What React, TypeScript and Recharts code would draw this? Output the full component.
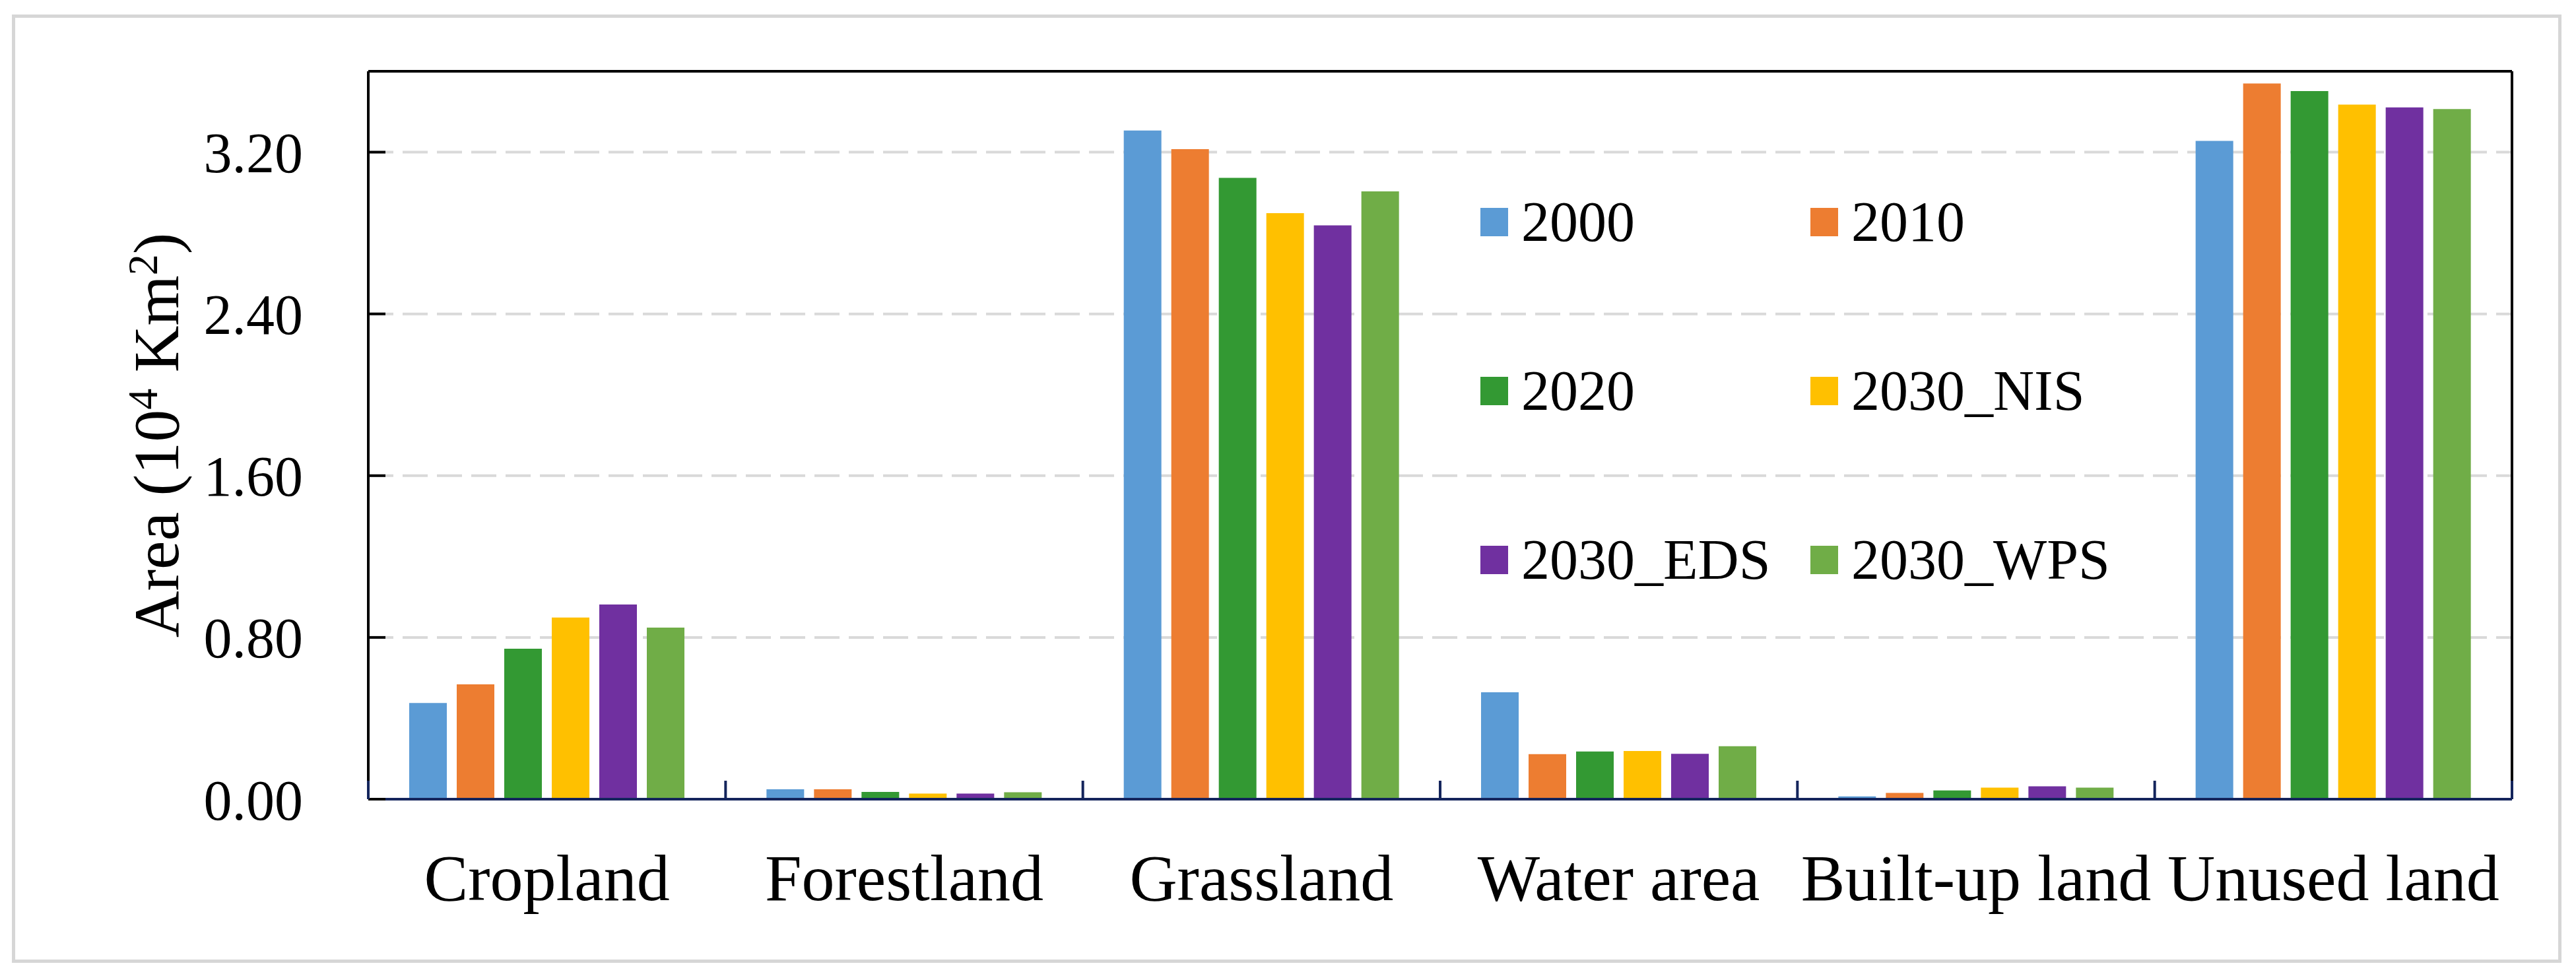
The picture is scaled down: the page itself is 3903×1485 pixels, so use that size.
import { BarChart, Bar, XAxis, YAxis, CartesianGrid, Legend } from "recharts";

const categories = ["Cropland", "Forestland", "Grassland", "Water area", "Built-up land", "Unused land"];
const seriesNames = ["2000", "2010", "2020", "2030_NIS", "2030_EDS", "2030_WPS"];
const seriesColors = ["#5b9bd5", "#ed7d31", "#339933", "#ffc000", "#7030a0", "#70ad47"];

// Area in 10^4 km2, one value per category
const area2000 = [0.476, 0.049, 3.307, 0.529, 0.014, 3.256];
const area2010 = [0.568, 0.049, 3.215, 0.223, 0.031, 3.54];
const area2020 = [0.744, 0.036, 3.073, 0.236, 0.043, 3.502];
const area2030NIS = [0.898, 0.028, 2.898, 0.238, 0.057, 3.435];
const area2030EDS = [0.963, 0.028, 2.838, 0.224, 0.064, 3.421];
const area2030WPS = [0.849, 0.034, 3.006, 0.262, 0.057, 3.413];

const yTicks = [0, 0.8, 1.6, 2.4, 3.2];

const seriesValues = [area2000, area2010, area2020, area2030NIS, area2030EDS, area2030WPS];

const data = categories.map((category, i) => {
  const row: Record<string, string | number> = { category };
  seriesNames.forEach((name, s) => {
    row[name] = seriesValues[s][i];
  });
  return row;
});

const FONT = "'Times New Roman', 'Liberation Serif', serif";
const NAVY = "#14255c";
const CHART_W = 3903;
const CHART_H = 1485;
const PLOT_LEFT = 558;
const PLOT_RIGHT = 3806;
const BAND_HALF = (PLOT_RIGHT - PLOT_LEFT) / categories.length / 2;

function CategoryTick(props: any) {
  const { x, y, payload, index } = props;
  const half = payload && payload.offset > 0 ? payload.offset : BAND_HALF;
  return (
    <g>
      <line x1={x - half} x2={x - half} y1={y} y2={y - 28} stroke={NAVY} strokeWidth={4} />
      {index === categories.length - 1 && (
        <line x1={x + half} x2={x + half} y1={y} y2={y - 28} stroke={NAVY} strokeWidth={4} />
      )}
      <text x={x} y={y + 153} textAnchor="middle" fontSize={100} fontFamily={FONT} fill="#000">
        {payload.value}
      </text>
    </g>
  );
}

function AxisTitle(props: any) {
  const vb = props.viewBox || {};
  const x = (vb.x ?? 258) + 12;
  const y = (vb.y ?? 108) + (vb.height ?? 1103) / 2;
  return (
    <text
      x={x}
      y={y}
      textAnchor="middle"
      fontSize={98}
      fontFamily={FONT}
      fill="#000"
      transform={`rotate(-90, ${x}, ${y})`}
    >
      Area (10
      <tspan dy={-32} fontSize={64}>4</tspan>
      <tspan dy={32}> Km</tspan>
      <tspan dy={-32} fontSize={64}>2</tspan>
      <tspan dy={32}>)</tspan>
    </text>
  );
}

function LegendGrid(props: any) {
  // keep the series order (Recharts sorts legend items by name otherwise)
  const items = [...(props.payload ?? [])].sort(
    (a: any, b: any) => seriesNames.indexOf(a.value) - seriesNames.indexOf(b.value)
  );
  return (
    <div
      style={{
        display: "grid",
        gridTemplateColumns: "500px 500px",
        gridAutoRows: "256px",
        alignItems: "center",
      }}
    >
      {items.map((item: any) => (
        <div key={item.value} style={{ display: "flex", alignItems: "center" }}>
          <span
            style={{
              display: "inline-block",
              width: 42,
              height: 43,
              background: item.color,
              marginRight: 20,
            }}
          />
          <span style={{ fontSize: 86, fontFamily: FONT, color: "#000", lineHeight: 1 }}>
            {item.value}
          </span>
        </div>
      ))}
    </div>
  );
}

export default function App() {
  return (
    <div style={{ position: "absolute", left: 0, top: 0, width: CHART_W, height: CHART_H, background: "#fff" }}>
      <div
        style={{
          position: "absolute",
          left: 18,
          top: 22,
          width: 3863,
          height: 1437,
          border: "5px solid #d6d6d6",
          boxSizing: "border-box",
        }}
      />
      <div style={{ position: "absolute", left: 0, top: 0 }}>
        <BarChart
          width={CHART_W}
          height={CHART_H}
          data={data}
          margin={{ top: 107, right: 96, left: 258, bottom: 74 }}
          barCategoryGap={62}
          barGap={15}
        >
          <CartesianGrid vertical={false} stroke="#d9d9d9" strokeWidth={4} strokeDasharray="38 14" />
          <XAxis
            dataKey="category"
            interval={0}
            height={200}
            tickSize={0}
            tickMargin={0}
            tickLine={false}
            axisLine={{ stroke: NAVY, strokeWidth: 4 }}
            tick={<CategoryTick />}
          />
          <XAxis
            xAxisId="top"
            orientation="top"
            dataKey="category"
            height={1}
            tick={false}
            tickLine={false}
            axisLine={{ stroke: "#000", strokeWidth: 4 }}
          />
          <YAxis
            domain={[0, 3.6]}
            ticks={yTicks}
            width={300}
            tickFormatter={(v: number) => v.toFixed(2)}
            tickSize={-26}
            tickMargin={125}
            axisLine={{ stroke: "#000", strokeWidth: 4 }}
            tickLine={{ stroke: "#000", strokeWidth: 4 }}
            tick={{ fontSize: 86, fill: "#000", fontFamily: FONT }}
            label={<AxisTitle />}
          />
          <YAxis
            yAxisId="right"
            orientation="right"
            domain={[0, 3.6]}
            width={1}
            tick={false}
            tickLine={false}
            axisLine={{ stroke: "#000", strokeWidth: 4 }}
          />
          <Legend
            layout="horizontal"
            verticalAlign="middle"
            align="center"
            itemSorter={null}
            content={<LegendGrid />}
            wrapperStyle={{ left: 2243, top: 208, width: 1100 }}
          />
          {seriesNames.map((name, s) => (
            <Bar key={name} dataKey={name} name={name} fill={seriesColors[s]} isAnimationActive={false} />
          ))}
        </BarChart>
      </div>
    </div>
  );
}
